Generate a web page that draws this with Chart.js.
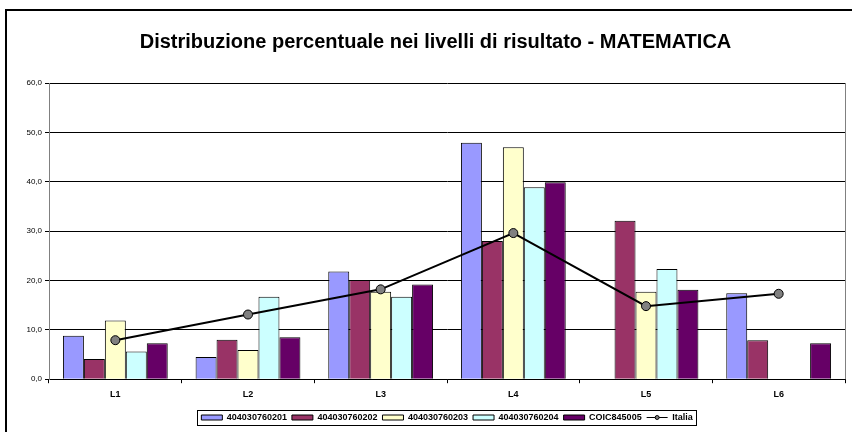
<!DOCTYPE html>
<html>
<head>
<meta charset="utf-8">
<script src="https://cdn.jsdelivr.net/npm/chart.js@4/dist/chart.umd.min.js"></script>
<style>
  html, body { margin: 0; padding: 0; background: #fff; }
  #wrap { width: 852px; height: 432px; }
</style>
</head>
<body>
<div id="wrap"><canvas id="chart" width="852" height="432"></canvas></div>
<script>
// values
const levels = ['L1', 'L2', 'L3', 'L4', 'L5', 'L6'];
const yTicks = [0, 10, 20, 30, 40, 50, 60];

const class0201 = [8.8, 4.5, 21.8, 47.9, null, 17.4];
const class0202 = [4.1, 8.0, 20.1, 28.0, 32.1, 7.9];
const class0203 = [11.9, 5.9, 17.7, 47.0, 17.7, null];
const class0204 = [5.6, 16.7, 16.7, 38.9, 22.3, null];
const school = [7.3, 8.5, 19.2, 39.9, 18.1, 7.3];
const italia = [7.9, 13.1, 18.2, 29.6, 14.8, 17.3];

const FONT = 'Arial, "Liberation Sans", sans-serif';

function bar(label, data, color) {
    return {
        type: 'bar',
        label: label,
        data: data,
        backgroundColor: color,
        borderColor: '#000',
        borderWidth: 1,
        order: 1
    };
}

// frame round the whole chart, right edge of plot area, legend box
const framePlugin = {
    id: 'frame',
    beforeDraw(chart) {
        const ctx = chart.ctx;
        ctx.save();
        ctx.fillStyle = '#fff';
        ctx.fillRect(0, 0, chart.width, chart.height);
        ctx.restore();
    },
    afterDraw(chart) {
        const ctx = chart.ctx;
        const a = chart.chartArea;
        ctx.save();
        ctx.strokeStyle = '#000';
        ctx.lineWidth = 2;
        ctx.strokeRect(6, 10, chart.width + 20, chart.height + 20);
        ctx.strokeStyle = '#808080';
        ctx.lineWidth = 1;
        ctx.beginPath();
        ctx.moveTo(Math.round(a.right) + 0.5, a.top);
        ctx.lineTo(Math.round(a.right) + 0.5, a.bottom);
        ctx.stroke();

        const lg = chart.legend;
        const boxes = lg.legendHitBoxes;
        let l = Infinity, r = -Infinity, t = Infinity, b = -Infinity;
        boxes.forEach(hb => {
            l = Math.min(l, hb.left);
            r = Math.max(r, hb.left + hb.width);
            t = Math.min(t, hb.top);
            b = Math.max(b, hb.top + hb.height);
        });
        ctx.strokeStyle = '#000';
        ctx.strokeRect(Math.round(l - 4) + 0.5, Math.round(t - 3) + 0.5, Math.round(r - l + 8), Math.round(b - t + 6));

        // marker on the Italia legend line
        lg.legendItems.forEach((it, i) => {
            if (it.datasetIndex === 5) {
                const hb = boxes[i];
                ctx.beginPath();
                ctx.arc(hb.left + 10.5, hb.top + hb.height / 2, 2, 0, Math.PI * 2);
                ctx.fillStyle = '#808080';
                ctx.fill();
                ctx.strokeStyle = '#000';
                ctx.lineWidth = 1;
                ctx.stroke();
            }
        });
        ctx.restore();
    }
};

new Chart(document.getElementById('chart'), {
    data: {
        labels: levels,
        datasets: [
            bar('404030760201', class0201, '#9999FF'),
            bar('404030760202', class0202, '#993366'),
            bar('404030760203', class0203, '#FFFFCC'),
            bar('404030760204', class0204, '#CCFFFF'),
            bar('COIC845005', school, '#660066'),
            {
                type: 'line',
                label: 'Italia',
                data: italia,
                borderColor: '#000',
                borderWidth: 2,
                backgroundColor: '#808080',
                pointBackgroundColor: '#808080',
                pointBorderColor: '#000',
                pointBorderWidth: 1,
                pointRadius: 4.5,
                pointStyle: 'circle',
                tension: 0,
                order: 0
            }
        ]
    },
    options: {
        responsive: false,
        animation: false,
        datasets: {
            bar: { categoryPercentage: 0.79, barPercentage: 1 }
        },
        layout: { padding: { left: 26, right: 7, top: 0, bottom: 0 } },
        plugins: {
            title: {
                display: true,
                text: 'Distribuzione percentuale nei livelli di risultato - MATEMATICA',
                color: '#000',
                font: { family: FONT, size: 20, weight: 'bold' },
                padding: { top: 30, bottom: 29 }
            },
            legend: {
                position: 'bottom',
                fullSize: false,
                labels: {
                    color: '#000',
                    font: { family: FONT, size: 9, weight: 'bold' },
                    usePointStyle: true,
                    pointStyle: 'rect',
                    pointStyleWidth: 21,
                    boxHeight: 5,
                    padding: 5,
                    sort: (a, b) => a.datasetIndex - b.datasetIndex,
                    generateLabels(chart) {
                        const items = Chart.defaults.plugins.legend.labels.generateLabels(chart);
                        items.forEach(it => {
                            it.pointStyle = it.datasetIndex === 5 ? 'line' : 'rect';
                            it.lineWidth = 1;
                            it.strokeStyle = '#000';
                        });
                        return items;
                    }
                }
            },
            tooltip: { enabled: false }
        },
        scales: {
            x: {
                afterFit(scale) { scale.height += 2; },
                grid: {
                    display: true,
                    drawOnChartArea: false,
                    offset: true,
                    tickLength: 4,
                    color: '#000'
                },
                border: { color: '#000', width: 1 },
                ticks: {
                    color: '#000',
                    font: { family: FONT, size: 9, weight: 'bold' },
                    padding: 6
                }
            },
            y: {
                min: 0,
                max: 60,
                afterBuildTicks(scale) {
                    scale.ticks = yTicks.map(v => ({ value: v }));
                },
                afterFit(scale) { scale.width = 23; },
                grid: {
                    color: '#000',
                    tickLength: 4,
                    drawTicks: true
                },
                border: { color: '#808080', width: 1 },
                ticks: {
                    color: '#000',
                    font: { family: FONT, size: 8 },
                    padding: 3,
                    callback: v => v.toFixed(1).replace('.', ',')
                }
            }
        }
    },
    plugins: [framePlugin]
});
</script>
</body>
</html>
